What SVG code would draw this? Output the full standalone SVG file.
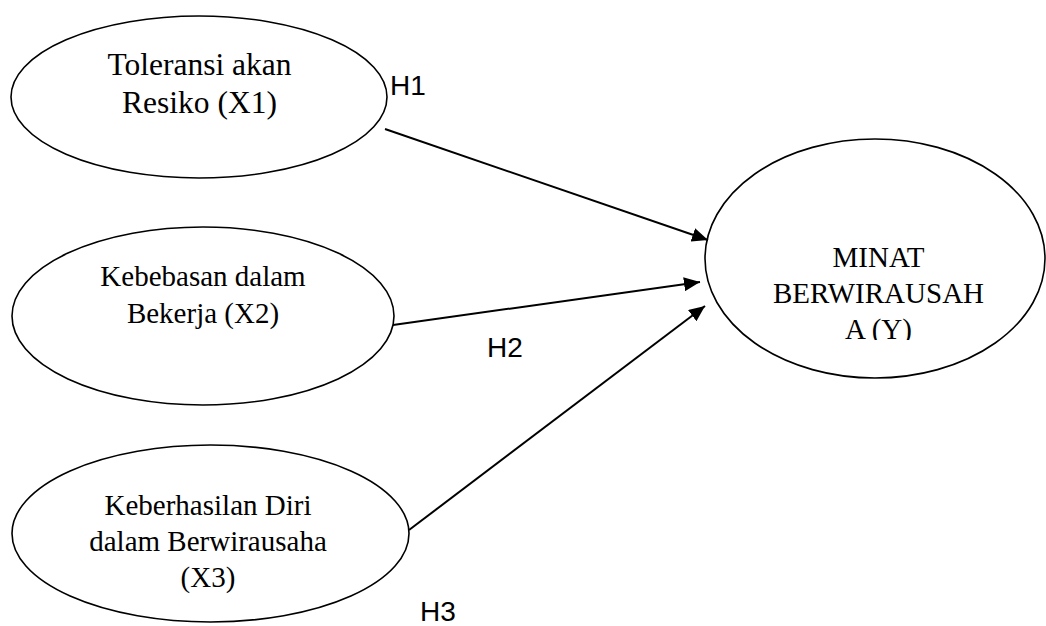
<svg xmlns="http://www.w3.org/2000/svg" width="1046" height="626" viewBox="0 0 1046 626">
  <style>
    .node { fill: #ffffff; stroke: #000000; stroke-width: 1.6; }
    .label { font-family: "Liberation Serif", "Times New Roman", serif; fill: #000000; text-anchor: middle; }
    .hlabel { font-family: "Liberation Sans", Arial, sans-serif; font-size: 28px; fill: #000000; }
    .edge { stroke: #000000; stroke-width: 2; fill: none; marker-end: url(#arrow); }
  </style>
  <defs>
    <marker id="arrow" markerUnits="userSpaceOnUse" markerWidth="17" markerHeight="14" refX="16" refY="7" orient="auto">
      <path d="M0,0 L16,7 L0,14 z" fill="#000000"/>
    </marker>
    <clipPath id="clipY">
      <rect x="700" y="130" width="346" height="210"/>
    </clipPath>
  </defs>
  <rect width="1046" height="626" fill="#ffffff"/>

  <g id="node-x1">
    <ellipse class="node" cx="199" cy="97" rx="188" ry="81"/>
    <text class="label" font-size="31.5" x="199.5" y="75">Toleransi akan</text>
    <text class="label" font-size="31.5" x="199.5" y="113">Resiko (X1)</text>
  </g>

  <g id="node-x2">
    <ellipse class="node" cx="203" cy="316" rx="191" ry="89"/>
    <text class="label" font-size="29" x="203" y="286">Kebebasan dalam</text>
    <text class="label" font-size="29" x="203" y="323">Bekerja (X2)</text>
  </g>

  <g id="node-x3">
    <ellipse class="node" cx="210.5" cy="533.5" rx="198.5" ry="88.5"/>
    <text class="label" font-size="29" x="208" y="515">Keberhasilan Diri</text>
    <text class="label" font-size="29" x="208" y="551">dalam Berwirausaha</text>
    <text class="label" font-size="29" x="208" y="587">(X3)</text>
  </g>

  <g id="node-y">
    <ellipse class="node" cx="875" cy="258.5" rx="170" ry="119.5"/>
    <g clip-path="url(#clipY)">
      <text class="label" font-size="29" x="878.5" y="267">MINAT</text>
      <text class="label" font-size="29" x="878.5" y="303">BERWIRAUSAH</text>
      <text class="label" font-size="29" x="878.5" y="339">A (Y)</text>
    </g>
  </g>

  <g id="connectors">
    <line class="edge" x1="385" y1="129" x2="708" y2="240"/>
    <line class="edge" x1="393" y1="325" x2="700" y2="282"/>
    <line class="edge" x1="409" y1="530" x2="705" y2="306"/>
    <text class="hlabel" x="390" y="95">H1</text>
    <text class="hlabel" x="487" y="357">H2</text>
    <text class="hlabel" x="420" y="621">H3</text>
  </g>
</svg>
